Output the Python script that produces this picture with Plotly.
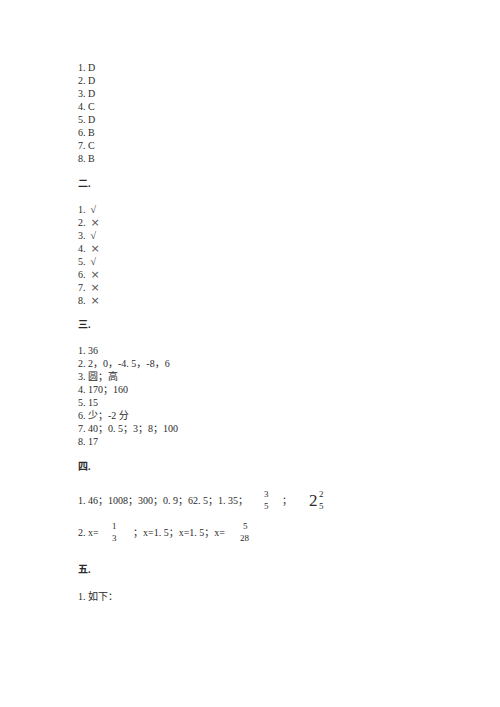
import plotly.graph_objects as go

# answer key content
sec1_answers = ['D', 'D', 'D', 'C', 'D', 'B', 'C', 'B']
sec2_answers = ['√', '×', '√', '×', '√', '×', '×', '×']
sec3_answers = ['36', '2，0，-4. 5，-8，6', '圆；高', '170；160', '15',
                '少；-2 分', '40；0. 5；3；8；100', '17']
section_titles = ['二.', '三.', '四.', '五.']
sec4_line1 = '1. 46；1008；300；0. 9；62. 5；1. 35；'
sec4_line1_frac = ('3', '5')
sec4_line1_mixed = ('2', '2', '5')
sec4_line2_parts = ['2. x=', '；x=1. 5；x=1. 5；x=']
sec4_line2_fracs = [('1', '3'), ('5', '28')]
sec5_line = '1. 如下：'

FONT = 'Liberation Serif, Noto Sans CJK SC, serif'
INK = '#2a2a2a'
LEFT = 76
STEP = 13
PAGE_OFFSET = 8  # body margin of the html page

fig = go.Figure()


def text(x, y, s, size=10, anchor='left', bold=False):
    if bold:
        s = f'<b>{s}</b>'
    fig.add_annotation(x=x, y=y, text=s, showarrow=False, xanchor=anchor, yanchor='middle',
                       font=dict(family=FONT, size=size, color=INK))


def frac(x, y, num, den, size=9):
    text(x, y - 6, num, size=size, anchor='center')
    text(x, y + 6, den, size=size, anchor='center')


def mark(a):
    # bigger cross glyph, a little lighter like the original
    if a == '×':
        return '<span style="font-family:DejaVu Sans;font-size:11px;color:#555">×</span>'
    return a


# section 1
for i, a in enumerate(sec1_answers):
    text(LEFT, 67 + i * STEP, f'{i + 1}. {a}')

# section 2
text(LEFT, 183, section_titles[0], bold=True)
for i, a in enumerate(sec2_answers):
    text(LEFT, 209 + i * STEP, f'{i + 1}.  {mark(a)}')

# section 3
text(LEFT, 324, section_titles[1], bold=True)
for i, a in enumerate(sec3_answers):
    text(LEFT, 350 + i * STEP, f'{i + 1}. {a}')

# section 4
text(LEFT, 466, section_titles[2], bold=True)
text(LEFT, 500, sec4_line1)
frac(266, 500, *sec4_line1_frac)
text(287, 500, '；', anchor='center')
text(313, 500, sec4_line1_mixed[0], size=17, anchor='center')
frac(321, 500, sec4_line1_mixed[1], sec4_line1_mixed[2])

text(LEFT, 532, sec4_line2_parts[0])
frac(114, 532, *sec4_line2_fracs[0])
text(131, 532, sec4_line2_parts[1])
frac(245, 532, *sec4_line2_fracs[1])

# section 5
text(LEFT, 569, section_titles[3], bold=True)
text(LEFT, 596, sec5_line)

fig.update_xaxes(range=[PAGE_OFFSET, 500 + PAGE_OFFSET], visible=False, fixedrange=True)
fig.update_yaxes(range=[707 + PAGE_OFFSET, PAGE_OFFSET], visible=False, fixedrange=True)
fig.update_layout(width=500, height=707, margin=dict(l=0, r=0, t=0, b=0),
                  plot_bgcolor='white', paper_bgcolor='white', showlegend=False)

fig.write_html('out.html')
